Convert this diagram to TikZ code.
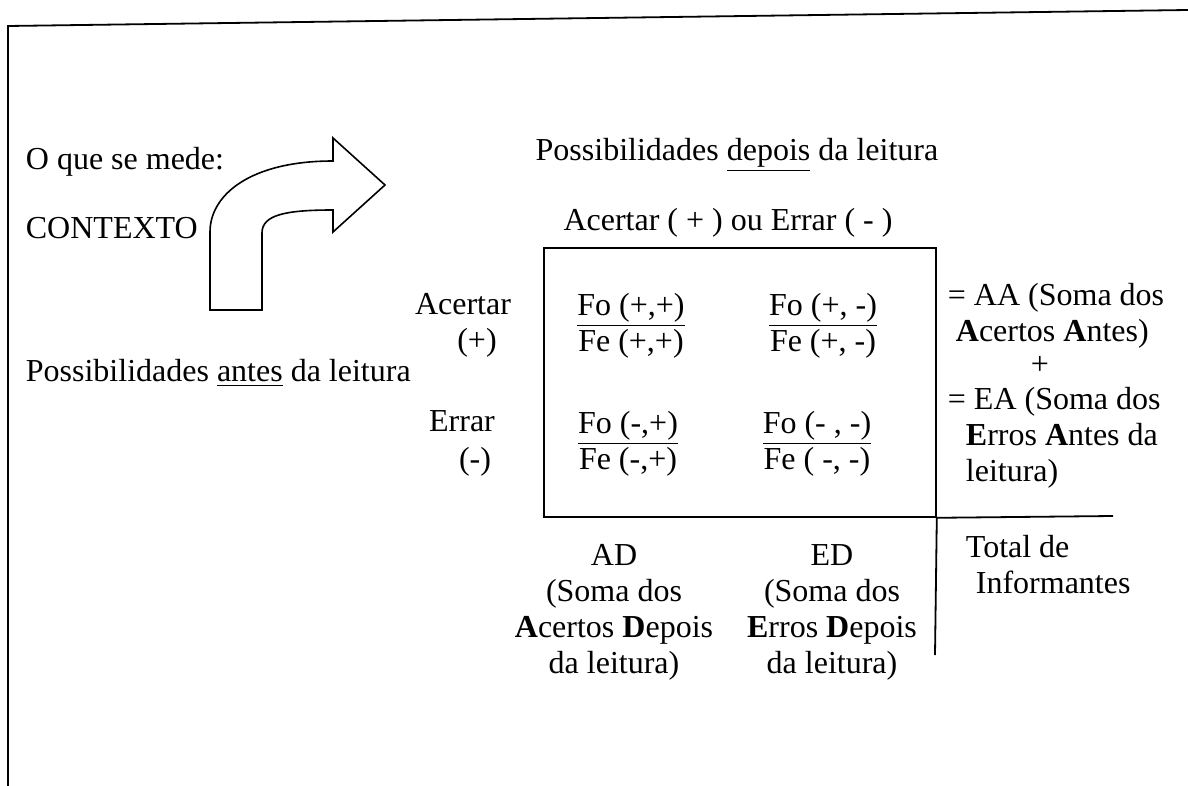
\documentclass[tikz,border=0pt]{standalone}
\usepackage{fontspec}
\setmainfont{LiberationSerif}[Extension=.ttf, UprightFont=*-Regular,
  BoldFont=*-Bold, ItalicFont=*-Italic, BoldItalicFont=*-BoldItalic]
\usepackage{tikz}

\begin{document}
\begin{tikzpicture}[x=0.5pt, y=-0.5pt, line width=0.9pt,
    every node/.style={font=\rmfamily\fontsize{16}{18}\selectfont, inner sep=0pt},
    lbl/.style={anchor=west, align=left},
    cell/.style={align=center}]
    \useasboundingbox (0,0) rectangle (1188,786);

    \draw (8,786) -- (8,26) -- (1188,10);

    \node[lbl] (mede) at (25,162) {O que se mede:};
    \node[lbl] (ctx) at (25,228) {CONTEXTO};
    \node[lbl] (antes) at (25,373) {Possibilidades \underline{antes} da leitura};

    \draw[line width=0.8pt] (210,310) -- (262,310) -- (262,233)
        .. controls (262,215) and (285,210) .. (333,210) -- (333,232)
        -- (385,185) -- (333,138) -- (333,161)
        .. controls (250,161) and (210,195) .. (210,232) -- cycle;

    \node (depois) at (737,155) {Possibilidades \underline{depois} da leitura};
    \node (ae) at (728,223) {Acertar ( + ) ou Errar ( - )};

    \node[draw, line width=0.9pt, anchor=north west, minimum width=196pt,
          minimum height=134.5pt] (tab) at (543,247) {};

    \node (ac) at (463,304) {Acertar};
    \node (acm) at (477,343) {(+)};
    \node (er) at (462,421) {Errar};
    \node (erm) at (475,462) {(-)};

    \node[cell] (pp) at (631,326) {\underline{Fo (+,+)}\\Fe (+,+)};
    \node[cell] (pm) at (823,326) {\underline{Fo (+, -)}\\Fe (+, -)};
    \node[cell] (mp) at (628,444) {\underline{Fo (-,+)}\\Fe (-,+)};
    \node[cell] (mm) at (817,444) {\underline{Fo (- , -)}\\Fe ( -, -)};

    \node[lbl] (aa) at (947,316) {= AA (Soma dos\\\hspace{4pt}\textbf{A}certos \textbf{A}ntes)};
    \node (mais) at (1040,365) {+};
    \node[lbl] (ea) at (947,438) {= EA (Soma dos\\\hspace{9pt}\textbf{E}rros \textbf{A}ntes da\\\hspace{9pt}leitura)};

    \coordinate (tot) at (1113,516);
    \coordinate (fim) at (935,655);
    \draw (tab.south east) -- (tot);
    \draw (tab.south east) -- (fim);

    \node[lbl] (total) at (965,565) {Total de\\\hspace{5pt}Informantes};
    \node[cell] (ad) at (614,612) {AD\\(Soma dos\\\textbf{A}certos \textbf{D}epois\\da leitura)};
    \node[cell] (ed) at (832,612) {ED\\(Soma dos\\\textbf{E}rros \textbf{D}epois\\da leitura)};
\end{tikzpicture}
\end{document}
